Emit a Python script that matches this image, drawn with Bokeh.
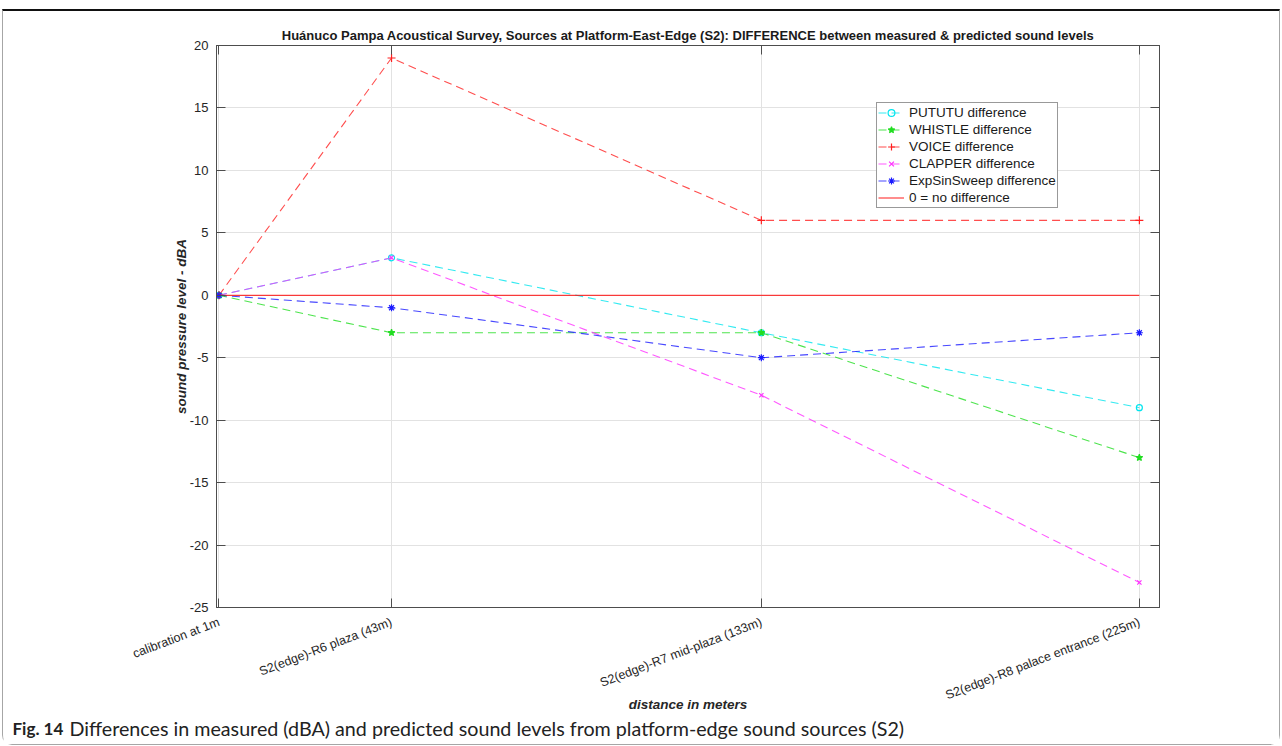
import math
from bokeh.plotting import figure
from bokeh.layouts import column, row
from bokeh.models import Range1d, FixedTicker, LinearAxis, Legend, LegendItem
from bokeh.core.properties import value
from bokeh.embed import file_html
from bokeh.resources import INLINE

# ---------------- data ----------------
distance_m = [1, 43, 133, 225]
site_labels = ["calibration at 1m", "S2(edge)-R6 plaza (43m)",
               "S2(edge)-R7 mid-plaza (133m)", "S2(edge)-R8 palace entrance (225m)"]
pututu_diff = [0, 3, -3, -9]
whistle_diff = [0, -3, -3, -13]
voice_diff = [0, 19, 6, 6]
clapper_diff = [0, 3, -8, -23]
sweep_diff = [0, -1, -5, -3]
no_difference = [0, 0, 0, 0]
y_ticks = [-25, -20, -15, -10, -5, 0, 5, 10, 15, 20]

series_names = ["PUTUTU difference", "WHISTLE difference", "VOICE difference",
                "CLAPPER difference", "ExpSinSweep difference"]
series_values = [pututu_diff, whistle_diff, voice_diff, clapper_diff, sweep_diff]

title_text = ("Huánuco Pampa Acoustical Survey, Sources at Platform-East-Edge (S2): "
              "DIFFERENCE between measured & predicted sound levels")
caption_bold = "Fig. 14"
caption_text = "Differences in measured (dBA) and predicted sound levels from platform-edge sound sources (S2)"

# ---------------- layout ----------------
W = 1276
HP, HC = 703, 30
FL, FR, FT, FB = 213, 120, 34, 107
FONT = "Liberation Sans"
AX = "#4d4d4d"

p = figure(width=W, height=HP, output_backend="svg", toolbar_location=None,
           title=title_text,
           x_range=Range1d(0.4, 229.9), y_range=Range1d(-25, 20),
           min_border_left=FL, min_border_right=FR, min_border_top=FT, min_border_bottom=FB,
           background_fill_color="white", border_fill_color="white",
           outline_line_color=AX, outline_line_width=1)
p.title.align = "center"
p.title.text_font = FONT
p.title.text_font_style = "bold"
p.title.text_font_size = "13px"
p.title.text_color = "#1a1a1a"
p.title.standoff = 5

def style_axis(ax):
    ax.axis_line_color = AX
    ax.major_tick_line_color = AX
    ax.major_tick_in = 9
    ax.major_tick_out = 0
    ax.minor_tick_line_color = None
    ax.major_label_text_font = FONT
    ax.major_label_text_font_size = "13px"
    ax.major_label_text_color = "#262626"

xt = FixedTicker(ticks=distance_m)
yt = FixedTicker(ticks=y_ticks)

p.xaxis.ticker = xt
p.yaxis.ticker = yt
for ax in (p.xaxis[0], p.yaxis[0]):
    style_axis(ax)
    ax.axis_label_text_font = FONT
    ax.axis_label_text_font_style = "bold italic"
    ax.axis_label_text_font_size = "13.5px"
    ax.axis_label_text_color = "#262626"
p.xaxis.major_label_overrides = {d: s for d, s in zip(distance_m, site_labels)}
p.yaxis.major_label_overrides = {t: str(t) for t in y_ticks}
p.xaxis.major_label_text_font_size = "12.5px"
p.xaxis.major_label_orientation = math.radians(21)
p.xaxis.major_label_standoff = 14
p.yaxis.major_label_standoff = 8
p.xaxis.axis_label = "distance in meters"
p.yaxis.axis_label = "sound pressure level - dBA"
p.xaxis.axis_label_standoff = -15
p.yaxis.axis_label_standoff = -2

top_ax = LinearAxis(ticker=xt)
right_ax = LinearAxis(ticker=yt)
for ax in (top_ax, right_ax):
    style_axis(ax)
    ax.major_label_text_color = None
    ax.major_label_text_font_size = "0px"
    ax.major_label_standoff = 0
p.add_layout(top_ax, "above")
p.add_layout(right_ax, "right")

p.xgrid.ticker = xt
p.ygrid.ticker = yt
p.grid.grid_line_color = "#e2e2e2"
p.grid.grid_line_width = 1

# ---------------- glyphs ----------------
styles = [("#00e5ee", "circle", 6, False),
          ("#22dd22", "star", 7, True),
          ("#ff2020", "cross", 8, False),
          ("#ff30ff", "x", 6, False),
          ("#1a1aff", "asterisk", 7, False)]

items = []
for name, vals, (color, marker, msize, filled) in zip(series_names, series_values, styles):
    rl = p.line(distance_m, vals, line_color=color, line_width=1.1, line_dash="8 5", line_alpha=0.8)
    rs = p.scatter(distance_m, vals, marker=marker, size=msize, line_color=color,
                   fill_color=color if filled else None, line_width=1.2)
    items.append(LegendItem(label=name, renderers=[rl, rs]))

rz = p.line(distance_m, no_difference, line_color="#ff0000", line_width=1.2, line_alpha=0.75)
items.append(LegendItem(label="0 = no difference", renderers=[rz]))

legend = Legend(items=items, location=(660, 399), margin=0, padding=1, spacing=0,
                label_text_font=FONT, label_text_font_size="13.5px", label_text_color="#1a1a1a",
                label_height=17, glyph_height=17, glyph_width=26, label_standoff=5,
                border_line_color="#333333", border_line_width=1,
                background_fill_color="white", background_fill_alpha=1)
p.add_layout(legend)

# ---------------- caption strip ----------------
cap = figure(width=W, height=HC, output_backend="svg", toolbar_location=None,
             x_range=Range1d(0, W), y_range=Range1d(HC, 0),
             x_axis_type=None, y_axis_type=None, min_border=0,
             min_border_left=0, min_border_right=0, min_border_top=0, min_border_bottom=0,
             outline_line_color=None, background_fill_color="white", border_fill_color="white")
cap.text(x=[9], y=[14], text=[caption_bold], text_font=value("Lato"),
         text_font_style="bold", text_font_size="17px", text_baseline="middle",
         text_align="left", text_color="#222222")
cap.text(x=[66], y=[14], text=[caption_text], text_font=value("Lato"),
         text_font_size="19.7px", text_baseline="middle", text_align="left", text_color="#222222")

for fig in (p, cap):
    if hasattr(fig, "frame_align"):
        fig.frame_align = False

page = column(p, row(cap, spacing=0), spacing=0, margin=(9, 0, 0, 2),
              styles={"border": "1px solid #a6a6a6", "border-top": "2px solid #111111",
                      "border-radius": "0px 0px 10px 10px"})

open("out.html", "w").write(file_html(page, INLINE))
